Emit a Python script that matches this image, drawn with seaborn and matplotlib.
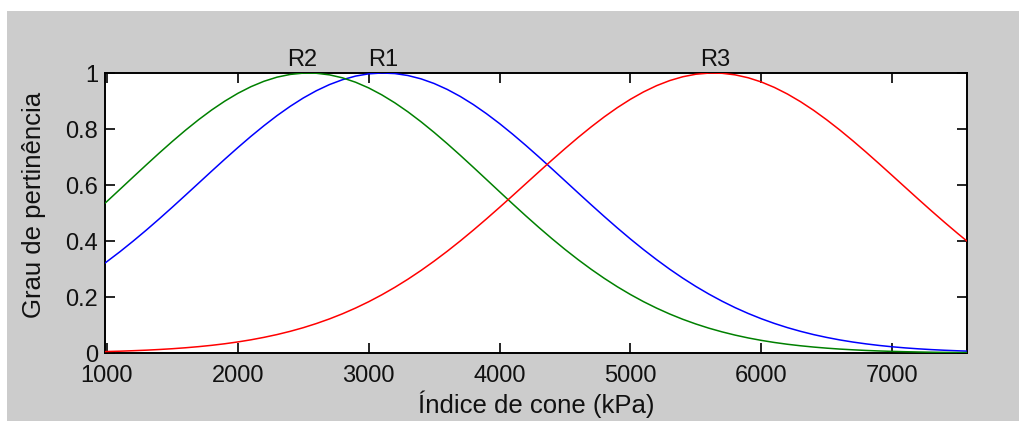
import matplotlib
matplotlib.use("Agg")
import matplotlib.pyplot as plt
import seaborn as sns
import pandas as pd
from matplotlib.patches import Rectangle

# Cone index samples (kPa)
cone_index = [985, 1100, 1200, 1300, 1400, 1500, 1600, 1700, 1800, 1900,
              2000, 2100, 2200, 2300, 2400, 2500, 2600, 2700, 2800, 2900,
              3000, 3100, 3200, 3300, 3400, 3500, 3600, 3700, 3800, 3900,
              4000, 4100, 4200, 4300, 4400, 4500, 4600, 4700, 4800, 4900,
              5000, 5100, 5200, 5300, 5400, 5500, 5600, 5700, 5800, 5900,
              6000, 6100, 6200, 6300, 6400, 6500, 6600, 6700, 6800, 6900,
              7000, 7100, 7200, 7300, 7400, 7500, 7572]

# Membership degree of each class
r1_blue = [0.3212, 0.3620, 0.3996, 0.4387, 0.4793, 0.5210, 0.5636, 0.6065, 0.6495, 0.6920,
           0.7335, 0.7737, 0.8119, 0.8479, 0.8809, 0.9107, 0.9367, 0.9586, 0.9761, 0.9890,
           0.9970, 1.0000, 0.9980, 0.9910, 0.9791, 0.9625, 0.9414, 0.9162, 0.8872, 0.8547,
           0.8194, 0.7815, 0.7417, 0.7004, 0.6580, 0.6151, 0.5721, 0.5295, 0.4876, 0.4467,
           0.4072, 0.3694, 0.3334, 0.2993, 0.2674, 0.2377, 0.2103, 0.1851, 0.1620, 0.1412,
           0.1224, 0.1056, 0.0906, 0.0774, 0.0657, 0.0556, 0.0467, 0.0391, 0.0326, 0.0270,
           0.0222, 0.0182, 0.0149, 0.0121, 0.0098, 0.0079, 0.0067]
r2_green = [0.5349, 0.5848, 0.6284, 0.6717, 0.7144, 0.7558, 0.7956, 0.8331, 0.8679, 0.8994,
            0.9273, 0.9511, 0.9705, 0.9852, 0.9949, 0.9996, 0.9991, 0.9934, 0.9827, 0.9670,
            0.9467, 0.9220, 0.8934, 0.8612, 0.8258, 0.7878, 0.7477, 0.7060, 0.6631, 0.6196,
            0.5760, 0.5327, 0.4901, 0.4486, 0.4085, 0.3700, 0.3335, 0.2990, 0.2667, 0.2366,
            0.2089, 0.1834, 0.1603, 0.1393, 0.1204, 0.1036, 0.0886, 0.0755, 0.0639, 0.0538,
            0.0451, 0.0376, 0.0312, 0.0258, 0.0212, 0.0173, 0.0140, 0.0114, 0.0091, 0.0073,
            0.0058, 0.0046, 0.0036, 0.0028, 0.0022, 0.0017, 0.0014]
r3_red = [0.0051, 0.0065, 0.0082, 0.0101, 0.0125, 0.0153, 0.0187, 0.0227, 0.0274, 0.0330,
          0.0395, 0.0471, 0.0559, 0.0659, 0.0774, 0.0904, 0.1052, 0.1217, 0.1401, 0.1606,
          0.1831, 0.2078, 0.2346, 0.2636, 0.2948, 0.3281, 0.3633, 0.4003, 0.4390, 0.4790,
          0.5201, 0.5620, 0.6044, 0.6467, 0.6888, 0.7298, 0.7696, 0.8075, 0.8433, 0.8763,
          0.9061, 0.9324, 0.9548, 0.9729, 0.9866, 0.9956, 0.9997, 0.9990, 0.9934, 0.9830,
          0.9680, 0.9485, 0.9249, 0.8975, 0.8667, 0.8328, 0.7964, 0.7578, 0.7176, 0.6762,
          0.6341, 0.5917, 0.5494, 0.5077, 0.4669, 0.4272, 0.3996]

class_names = ["R1", "R2", "R3"]
class_centers = [3110, 2490, 5645]
class_colors = ["#0000ff", "#008000", "#ff0000"]

x_ticks = [1000, 2000, 3000, 4000, 5000, 6000, 7000]
y_ticks = [0, 0.2, 0.4, 0.6, 0.8, 1]
y_tick_labels = ["0", "0.2", "0.4", "0.6", "0.8", "1"]

sns.set_theme(style="white")
plt.rcParams["font.family"] = ["Liberation Sans", "DejaVu Sans"]

df = pd.DataFrame({"x": cone_index, "R1": r1_blue, "R2": r2_green, "R3": r3_red})
long = df.melt(id_vars="x", var_name="classe", value_name="grau")

fig = plt.figure(figsize=(10.19, 4.21), dpi=100, facecolor="white")
# grey figure panel behind the axes
fig.patches.append(Rectangle((7 / 1019, 0), 1 - 7 / 1019, 410 / 421,
                             transform=fig.transFigure, facecolor="#cccccc",
                             edgecolor="none", zorder=-10))

ax = fig.add_axes([105 / 1019, 68 / 421, 862 / 1019, 280 / 421])
ax.set_facecolor("white")

sns.lineplot(data=long, x="x", y="grau", hue="classe",
             palette=dict(zip(class_names, class_colors)),
             hue_order=class_names, linewidth=1.1, legend=False, ax=ax,
             zorder=3)

ax.set_xlim(985, 7572)
ax.set_ylim(0, 1)
ax.set_xticks(x_ticks)
ax.set_xticklabels([str(t) for t in x_ticks])
ax.set_yticks(y_ticks)
ax.set_yticklabels(y_tick_labels)

ax.tick_params(axis="both", which="both", direction="in", length=7, width=1.2,
               color="black", labelsize=17, labelcolor="#111111",
               top=True, right=True, bottom=True, left=True)
ax.tick_params(axis="x", pad=9)
ax.tick_params(axis="y", pad=5)

for side in ["left", "right", "top", "bottom"]:
    ax.spines[side].set_visible(True)
    ax.spines[side].set_color("black")
    ax.spines[side].set_linewidth(1.4)

ax.set_xlabel("Índice de cone (kPa)", fontsize=18.5, color="#111111")
ax.set_ylabel("Grau de pertinência", fontsize=18.5, color="#111111")
ax.xaxis.set_label_coords(0.5, -0.135)
ax.yaxis.set_label_coords(-0.068, 0.53)

for name, cx in zip(class_names, class_centers):
    ax.text(cx, 1.008, name, ha="center", va="bottom", fontsize=17,
            color="#111111", clip_on=False)

fig.savefig("out.png", dpi=100, facecolor=fig.get_facecolor())
